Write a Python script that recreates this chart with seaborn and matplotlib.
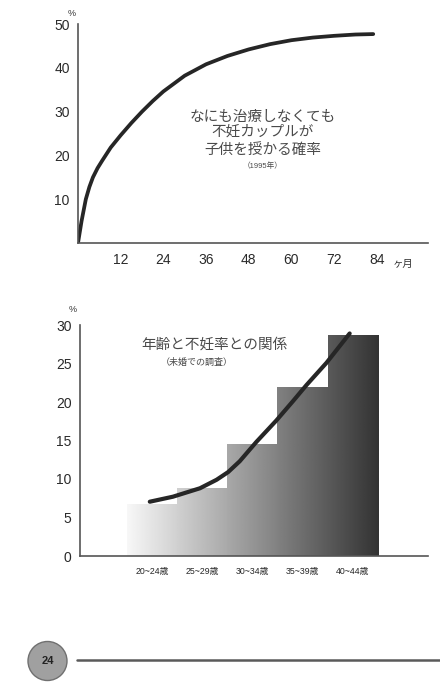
import numpy as np
import pandas as pd
import matplotlib
matplotlib.use("Agg")
import matplotlib.pyplot as plt
import seaborn as sns
from matplotlib.patches import Circle

# data
months = [0, 1, 2.2, 3.2, 4.2, 5.5, 6.8, 9.2, 12, 15, 18, 21, 24, 30, 36, 42, 48, 54,
          60, 66, 72, 78, 83]
pregnancy_rate = [0, 5, 10, 12.8, 15, 17.1, 18.8, 21.8, 24.6, 27.4, 30, 32.4, 34.6,
                  38.2, 40.8, 42.7, 44.2, 45.4, 46.3, 46.9, 47.3, 47.6, 47.7]
month_ticks = [12, 24, 36, 48, 60, 72, 84]

age_groups = ["20~24歳", "25~29歳", "30~34歳", "35~39歳", "40~44歳"]
infertility = [6.8, 8.8, 14.6, 22.0, 28.7]
trend_pos = [-0.04, 0.42, 0.96, 1.29, 1.52, 1.75, 2.08, 2.48, 2.81, 3.08, 3.48, 3.94]
trend_vals = [7.05, 7.7, 8.8, 9.9, 10.9, 12.3, 14.8, 17.6, 20.1, 22.2, 25.1, 28.9]

sns.set_style("white")
plt.rcParams["font.family"] = ["Liberation Sans", "Noto Sans CJK JP", "DejaVu Sans"]

W, H = 440, 693
fig = plt.figure(figsize=(W / 100, H / 100), dpi=100)
fig.patch.set_facecolor("white")

axis_col = "#555555"
text_col = "#4a4a4a"


def style_axes(ax):
    for s in ["top", "right"]:
        ax.spines[s].set_visible(False)
    for s in ["left", "bottom"]:
        ax.spines[s].set_color(axis_col)
        ax.spines[s].set_linewidth(1.2)
    ax.tick_params(axis="y", direction="out", length=4, width=1.1, color=axis_col,
                   pad=2, labelsize=10, labelcolor="#2a2a2a")
    ax.tick_params(axis="x", direction="inout", length=7, width=1.1, color=axis_col,
                   labelcolor="#2a2a2a")
    ax.set_xlabel("")
    ax.set_ylabel("")


# ---- top chart: probability of conceiving without treatment
ax1 = fig.add_axes([78 / W, (H - 243) / H, 350 / W, 219 / H])
df1 = pd.DataFrame({"month": months, "rate": pregnancy_rate})
sns.lineplot(data=df1, x="month", y="rate", ax=ax1, color="#262626",
             linewidth=2.7, solid_capstyle="round", solid_joinstyle="round")
ax1.set_xlim(0, 98.4)
ax1.set_ylim(0, 50)
ax1.set_yticks([10, 20, 30, 40, 50])
ax1.set_xticks(month_ticks)
style_axes(ax1)
ax1.tick_params(axis="x", labelsize=10, pad=4)

ax1.text(52, 28.8, "なにも治療しなくても", ha="center", va="center",
         fontsize=10.5, color=text_col)
ax1.text(52, 25.4, "不妊カップルが", ha="center", va="center",
         fontsize=10.5, color=text_col)
ax1.text(52, 21.3, "子供を授かる確率", ha="center", va="center",
         fontsize=10.5, color=text_col)
ax1.text(52, 17.6, "（1995年）", ha="center", va="center",
         fontsize=5.5, color=text_col)

fig.text(72 / W, 1 - 14 / H, "%", ha="center", va="center", fontsize=6.5, color="#333333")
fig.text(403 / W, 1 - 264 / H, "ヶ月", ha="center", va="center", fontsize=7.5,
         color="#333333", family=["Noto Sans CJK JP", "DejaVu Sans"])

# ---- bottom chart: age and infertility
ax2 = fig.add_axes([80 / W, (H - 556) / H, 348 / W, 231 / H])
df2 = pd.DataFrame({"age": age_groups, "rate": infertility})
sns.barplot(data=df2, x="age", y="rate", ax=ax2, width=1.0, color="white",
            edgecolor="none", linewidth=0)

# horizontal grey gradient across all bars
grad = np.linspace(0.97, 0.2, 256)[None, :]
for p in ax2.patches:
    p.set_facecolor("none")
    im = ax2.imshow(grad, cmap="gray", vmin=0, vmax=1, aspect="auto",
                    extent=[-0.5, 4.5, 0, 30], interpolation="bilinear", zorder=1)
    im.set_clip_path(p)

df3 = pd.DataFrame({"pos": trend_pos, "val": trend_vals})
sns.lineplot(data=df3, x="pos", y="val", ax=ax2, color="#262626",
             linewidth=3.0, solid_capstyle="round", solid_joinstyle="round", zorder=3)

ax2.set_xlim(-1.43, 5.5)
ax2.set_ylim(0, 30)
ax2.set_yticks([0, 5, 10, 15, 20, 25, 30])
ax2.set_xticks(np.arange(-0.5, 5, 1.0))
ax2.set_xticklabels([])
ax2.set_xticks(range(len(age_groups)), minor=True)
ax2.set_xticklabels(age_groups, minor=True)
style_axes(ax2)
ax2.tick_params(axis="x", which="minor", length=0, labelsize=6.3, pad=8)

ax2.text(1.24, 27.4, "年齢と不妊率との関係", ha="center", va="center",
         fontsize=10.5, color=text_col)
ax2.text(0.9, 25.1, "（未婚での調査）", ha="center", va="center",
         fontsize=6.5, color=text_col)

fig.text(73 / W, 1 - 310 / H, "%", ha="center", va="center", fontsize=6.5, color="#333333")

# ---- page footer
axf = fig.add_axes([0, 0, 1, 1], zorder=-1)
axf.set_xlim(0, W)
axf.set_ylim(H, 0)
axf.axis("off")
axf.add_patch(Circle((47.5, 661), 19.5, facecolor="#a0a0a0", edgecolor="#707070", linewidth=1))
axf.text(47.5, 661, "24", ha="center", va="center", fontsize=8, fontweight="bold", color="#222222")
axf.plot([77, 440], [660, 660], color="#5a5a5a", linewidth=1.8)

fig.savefig("out.png", dpi=100)
